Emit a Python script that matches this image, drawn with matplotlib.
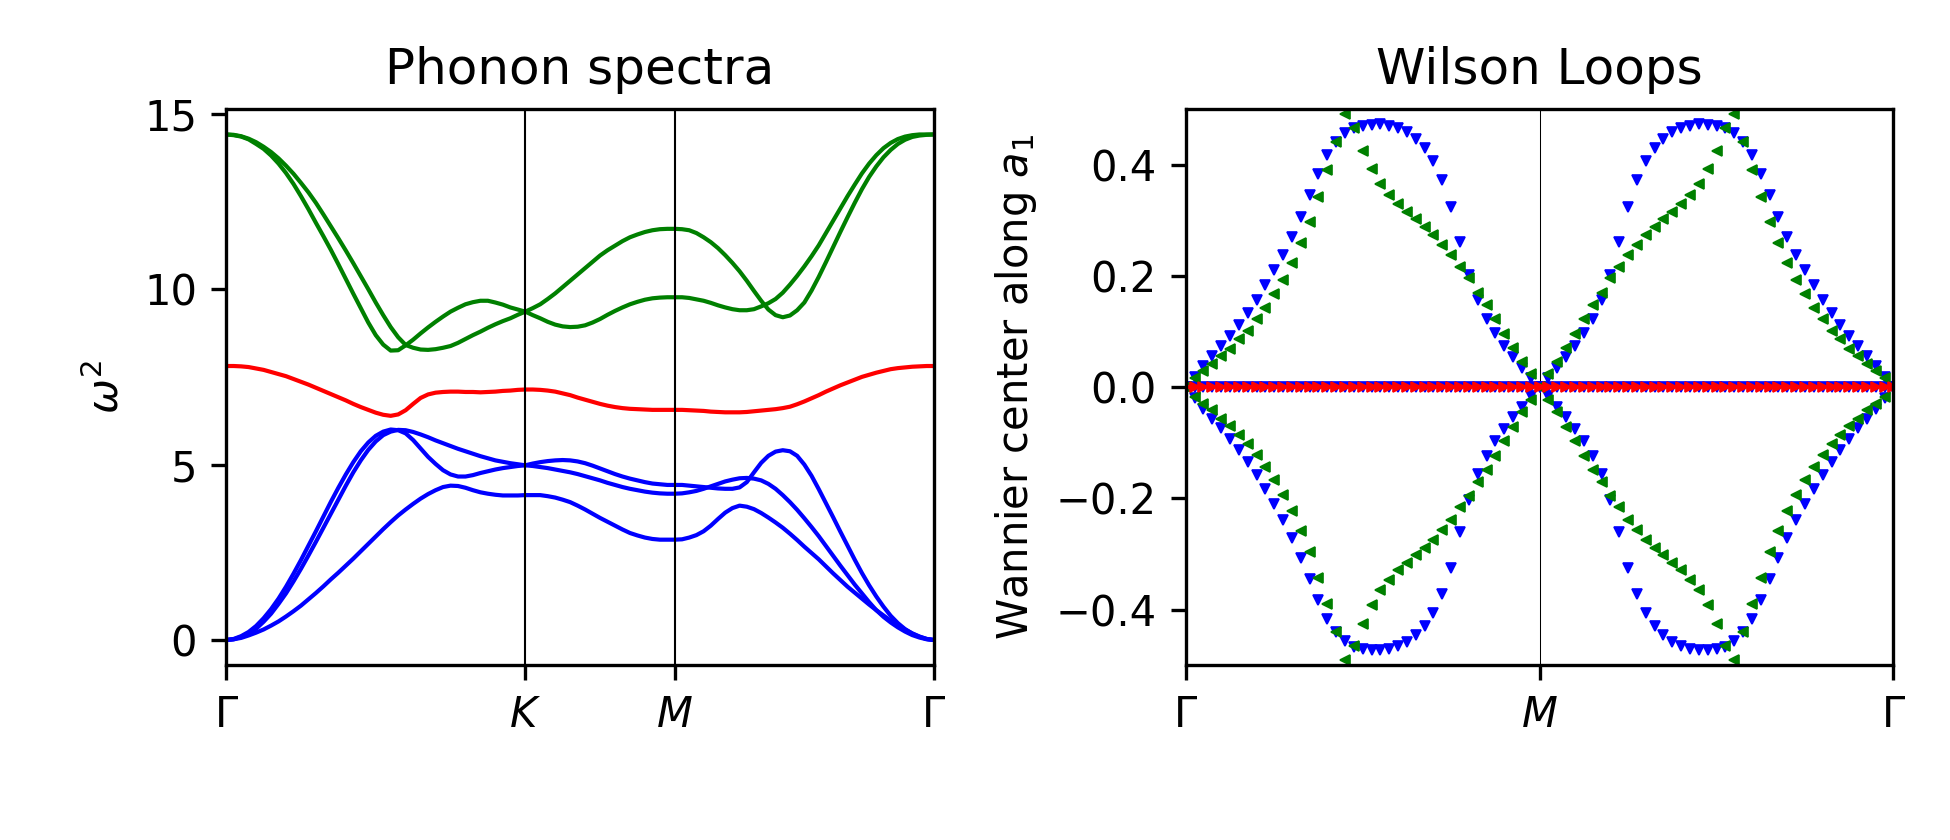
import numpy as np
import matplotlib
matplotlib.use("Agg")
import matplotlib.pyplot as plt

# ---------------------------- PHONON DATA -----------------------------------
# path G-K-M-G of the hexagonal zone, segment lengths in units of 1/a
seg_len = [4 * np.pi / 3, 2 * np.pi / 3, 2 * np.pi / np.sqrt(3)]
seg_div = [40, 20, 36]
path_labels = [r"$\Gamma$", r"$K$", r"$M$", r"$\Gamma$"]

# omega^2 along the path: G-K (41 pts), K-M (20 pts), M-G (36 pts)
band_green_a = [14.41, 14.39, 14.35, 14.27, 14.14, 14.00, 13.81, 13.58, 13.31, 13.00,
                12.65, 12.28, 11.89, 11.51, 11.12, 10.71, 10.29, 9.87, 9.46, 9.05,
                8.69, 8.42, 8.25, 8.26, 8.40, 8.56, 8.74, 8.91, 9.07, 9.22,
                9.36, 9.47, 9.57, 9.63, 9.67, 9.67, 9.62, 9.56, 9.48, 9.42, 9.36,
                9.26, 9.17, 9.07, 8.99, 8.94, 8.92, 8.93, 8.97, 9.05, 9.15,
                9.27, 9.38, 9.48, 9.57, 9.64, 9.70, 9.74, 9.76, 9.77, 9.77,
                9.77, 9.75, 9.71, 9.67, 9.61, 9.54, 9.48, 9.43, 9.40, 9.40,
                9.43, 9.51, 9.60, 9.72, 9.90, 10.13, 10.38, 10.65, 10.94, 11.25,
                11.60, 11.95, 12.30, 12.65, 12.98, 13.30, 13.58, 13.82, 14.02, 14.17,
                14.28, 14.35, 14.39, 14.41, 14.41, 14.41]
band_green_b = [14.41, 14.40, 14.36, 14.29, 14.19, 14.06, 13.91, 13.73, 13.52, 13.29,
                13.03, 12.76, 12.46, 12.13, 11.79, 11.45, 11.10, 10.74, 10.37, 10.00,
                9.62, 9.26, 8.92, 8.63, 8.41, 8.33, 8.28, 8.27, 8.29, 8.33,
                8.38, 8.47, 8.58, 8.69, 8.79, 8.90, 9.00, 9.09, 9.17, 9.27, 9.36,
                9.46, 9.57, 9.72, 9.88, 10.06, 10.24, 10.42, 10.60, 10.78, 10.96,
                11.11, 11.24, 11.37, 11.48, 11.56, 11.63, 11.68, 11.71, 11.72, 11.72,
                11.71, 11.68, 11.60, 11.48, 11.34, 11.17, 10.97, 10.75, 10.51, 10.24,
                9.95, 9.67, 9.42, 9.26, 9.20, 9.25, 9.40, 9.62, 9.96, 10.35,
                10.77, 11.20, 11.63, 12.05, 12.46, 12.85, 13.20, 13.50, 13.76, 13.97,
                14.14, 14.26, 14.34, 14.38, 14.40, 14.41]
band_red = [7.81, 7.81, 7.80, 7.78, 7.74, 7.70, 7.64, 7.58, 7.52, 7.44,
            7.36, 7.28, 7.19, 7.10, 7.01, 6.92, 6.83, 6.73, 6.64, 6.56,
            6.48, 6.42, 6.39, 6.43, 6.55, 6.73, 6.90, 7.00, 7.05, 7.07,
            7.08, 7.08, 7.07, 7.07, 7.06, 7.07, 7.08, 7.10, 7.11, 7.13, 7.14,
            7.14, 7.13, 7.11, 7.08, 7.03, 6.98, 6.91, 6.85, 6.79, 6.73,
            6.68, 6.64, 6.61, 6.59, 6.58, 6.57, 6.56, 6.56, 6.56, 6.56,
            6.56, 6.55, 6.54, 6.53, 6.51, 6.50, 6.49, 6.49, 6.49, 6.50,
            6.52, 6.54, 6.56, 6.58, 6.61, 6.65, 6.72, 6.80, 6.89, 6.98,
            7.08, 7.17, 7.26, 7.34, 7.42, 7.50, 7.56, 7.62, 7.67, 7.72,
            7.75, 7.77, 7.79, 7.80, 7.81, 7.81]
band_blue_c = [0.00, 0.03, 0.11, 0.23, 0.40, 0.62, 0.88, 1.18, 1.52, 1.89,
               2.28, 2.69, 3.10, 3.52, 3.94, 4.34, 4.72, 5.07, 5.38, 5.63,
               5.82, 5.94, 6.00, 5.98, 5.89, 5.70, 5.46, 5.22, 5.02, 4.84,
               4.72, 4.66, 4.66, 4.70, 4.76, 4.81, 4.86, 4.90, 4.93, 4.96, 4.98,
               5.03, 5.07, 5.10, 5.12, 5.13, 5.12, 5.09, 5.04, 4.97, 4.89,
               4.81, 4.73, 4.66, 4.60, 4.55, 4.50, 4.46, 4.44, 4.42, 4.42,
               4.42, 4.40, 4.38, 4.36, 4.34, 4.32, 4.31, 4.31, 4.35, 4.50,
               4.78, 5.05, 5.25, 5.37, 5.41, 5.38, 5.25, 5.00, 4.68, 4.30,
               3.90, 3.50, 3.09, 2.69, 2.29, 1.91, 1.56, 1.24, 0.95, 0.69,
               0.48, 0.31, 0.18, 0.09, 0.03, 0.00]
band_blue_d = [0.00, 0.02, 0.09, 0.19, 0.32, 0.52, 0.75, 1.03, 1.33, 1.67,
               2.03, 2.41, 2.80, 3.20, 3.60, 4.00, 4.40, 4.78, 5.12, 5.42,
               5.66, 5.84, 5.94, 5.99, 5.98, 5.93, 5.86, 5.78, 5.69, 5.61,
               5.53, 5.45, 5.38, 5.31, 5.24, 5.18, 5.12, 5.08, 5.04, 5.01, 4.98,
               4.96, 4.93, 4.90, 4.86, 4.82, 4.78, 4.73, 4.67, 4.61, 4.55,
               4.48, 4.42, 4.36, 4.31, 4.27, 4.23, 4.20, 4.18, 4.17, 4.17,
               4.18, 4.21, 4.25, 4.31, 4.38, 4.45, 4.52, 4.57, 4.61, 4.62,
               4.60, 4.55, 4.45, 4.31, 4.13, 3.93, 3.71, 3.47, 3.22, 2.96,
               2.68, 2.40, 2.12, 1.85, 1.58, 1.33, 1.08, 0.85, 0.66, 0.50,
               0.36, 0.24, 0.14, 0.07, 0.02, 0.00]
band_blue_low = [0.00, 0.02, 0.06, 0.13, 0.21, 0.30, 0.41, 0.53, 0.67, 0.82,
                 0.98, 1.16, 1.34, 1.53, 1.73, 1.92, 2.12, 2.32, 2.53, 2.74,
                 2.95, 3.16, 3.36, 3.55, 3.72, 3.88, 4.03, 4.16, 4.27, 4.36,
                 4.40, 4.39, 4.34, 4.27, 4.21, 4.17, 4.14, 4.12, 4.12, 4.12, 4.13,
                 4.13, 4.13, 4.10, 4.06, 4.00, 3.93, 3.83, 3.72, 3.60, 3.48,
                 3.37, 3.26, 3.15, 3.05, 2.98, 2.92, 2.88, 2.86, 2.86, 2.86,
                 2.87, 2.92, 2.99, 3.10, 3.26, 3.45, 3.63, 3.76, 3.83, 3.80,
                 3.73, 3.62, 3.49, 3.35, 3.20, 3.03, 2.85, 2.66, 2.48, 2.30,
                 2.10, 1.90, 1.71, 1.52, 1.35, 1.18, 1.01, 0.85, 0.70, 0.55,
                 0.42, 0.30, 0.19, 0.10, 0.03, 0.00]

# ---------------------------- WILSON LOOP DATA ------------------------------
# |Wannier centre| along a1 on G-M-G (81 k points), centres come in +/- pairs
wl_labels = [r"$\Gamma$", r"$M$", r"$\Gamma$"]
wl_blue = [0.000, 0.019, 0.039, 0.057, 0.074, 0.093, 0.112, 0.134, 0.157, 0.183,
           0.210, 0.238, 0.271, 0.307, 0.345, 0.383, 0.417, 0.441, 0.457, 0.467,
           0.470, 0.472, 0.473, 0.470, 0.466, 0.459, 0.446, 0.430, 0.406, 0.372,
           0.325, 0.261, 0.202, 0.156, 0.123, 0.097, 0.075, 0.054, 0.035, 0.016,
           0.000,
           0.016, 0.035, 0.054, 0.075, 0.097, 0.123, 0.156, 0.202, 0.261, 0.325,
           0.372, 0.406, 0.430, 0.446, 0.459, 0.466, 0.470, 0.473, 0.472, 0.470,
           0.467, 0.457, 0.441, 0.417, 0.383, 0.345, 0.307, 0.271, 0.238, 0.210,
           0.183, 0.157, 0.134, 0.112, 0.093, 0.074, 0.057, 0.039, 0.019, 0.000]
wl_green = [0.000, 0.017, 0.030, 0.041, 0.057, 0.069, 0.086, 0.102, 0.122, 0.143,
            0.167, 0.193, 0.223, 0.259, 0.297, 0.343, 0.390, 0.441, 0.491, 0.466,
            0.425, 0.392, 0.365, 0.346, 0.329, 0.316, 0.302, 0.289, 0.274, 0.256,
            0.238, 0.216, 0.196, 0.170, 0.148, 0.123, 0.096, 0.071, 0.045, 0.023,
            0.000,
            0.023, 0.045, 0.071, 0.096, 0.123, 0.148, 0.170, 0.196, 0.216, 0.238,
            0.256, 0.274, 0.289, 0.302, 0.316, 0.329, 0.346, 0.365, 0.392, 0.425,
            0.466, 0.491, 0.441, 0.390, 0.343, 0.297, 0.259, 0.223, 0.193, 0.167,
            0.143, 0.122, 0.102, 0.086, 0.069, 0.057, 0.041, 0.030, 0.017, 0.000]
wl_red = [0.0] * 81

# ---------------------------- K GRIDS ---------------------------------------
nodes = np.concatenate([[0.0], np.cumsum(seg_len)])
kdist = np.concatenate(
    [np.linspace(nodes[0], nodes[1], seg_div[0] + 1)]
    + [np.linspace(nodes[i], nodes[i + 1], seg_div[i] + 1)[1:] for i in (1, 2)])
wl_k = np.linspace(0.0, 1.0, len(wl_blue))
wl_blue = np.array(wl_blue)
wl_green = np.array(wl_green)

# ---------------------------- PLOTS -----------------------------------------
fig, (ax1, ax2) = plt.subplots(1, 2, figsize=(6.5, 2.8), dpi=300)
fig.subplots_adjust(left=0.116, right=0.971, bottom=0.208, top=0.870, wspace=0.356)

for band in (band_blue_low, band_blue_c, band_blue_d):
    ax1.plot(kdist, band, color="b", lw=1.0)
ax1.plot(kdist, band_red, color="r", lw=1.0)
for band in (band_green_a, band_green_b):
    ax1.plot(kdist, band, color="g", lw=1.0)
for x in nodes[1:-1]:
    ax1.axvline(x, color="k", lw=0.5)
ax1.set_xlim(nodes[0], nodes[-1])
ax1.set_xticks(nodes)
ax1.set_xticklabels(path_labels)
ax1.set_ylabel(r"$\omega^2$")
ax1.set_title("Phonon spectra")

ax2.axvline(0.5, color="k", lw=0.25)
ms = 2.2
ax2.plot(wl_k, wl_red, "bv", ms=ms, mew=0.4)
ax2.plot(wl_k, wl_blue, "bv", ms=ms, mew=0.4)
ax2.plot(wl_k, -wl_blue, "bv", ms=ms, mew=0.4)
ax2.plot(wl_k, wl_green, "g<", ms=ms, mew=0.4)
ax2.plot(wl_k, -wl_green, "g<", ms=ms, mew=0.4)
ax2.plot(wl_k, wl_red, "r>", ms=ms, mew=0.4)
ax2.set_xlim(0.0, 1.0)
ax2.set_ylim(-0.5, 0.5)
ax2.set_xticks([0.0, 0.5, 1.0])
ax2.set_xticklabels(wl_labels)
ax2.set_ylabel(r"Wannier center along $a_1$")
ax2.set_title("Wilson Loops")

fig.savefig("out.png", dpi=300)
